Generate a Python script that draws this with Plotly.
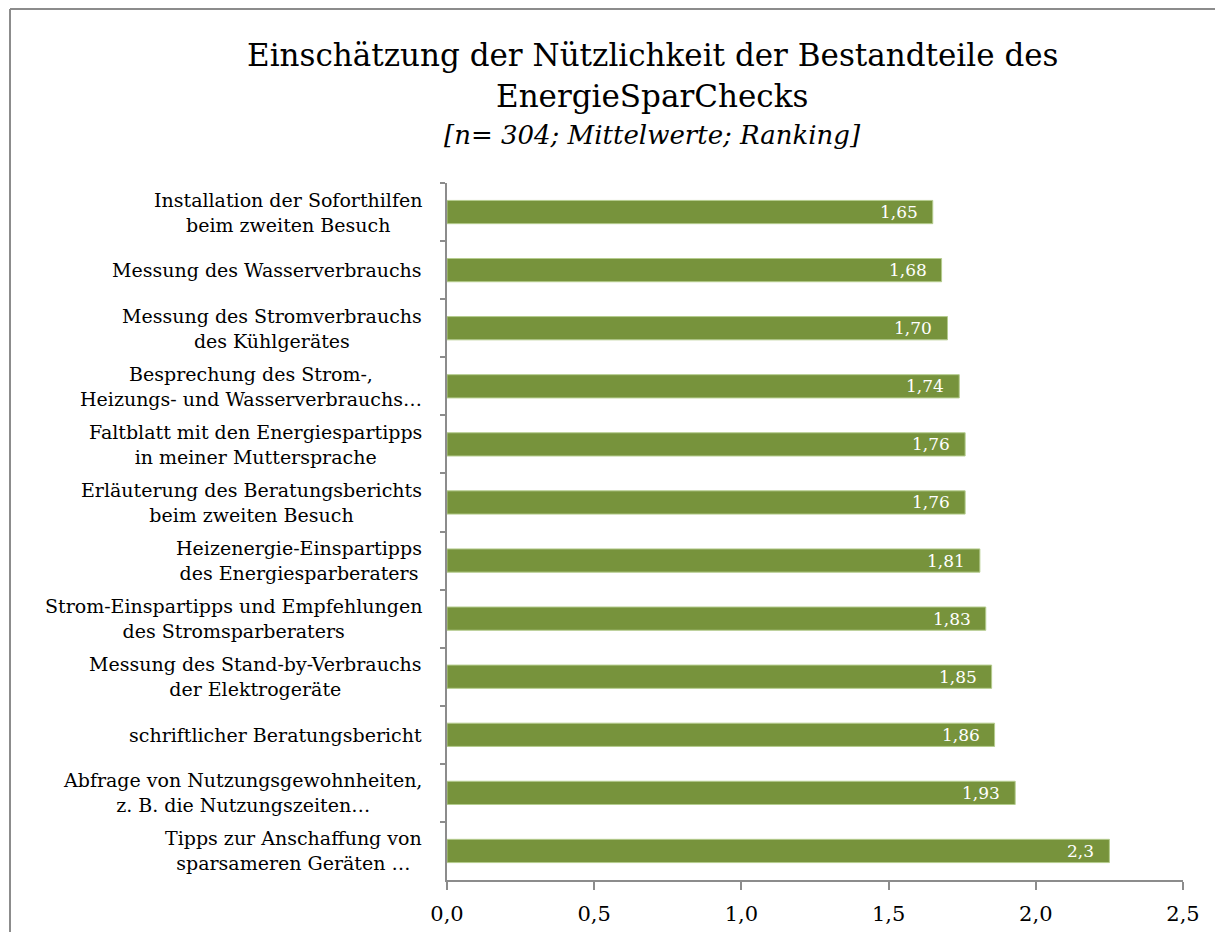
import plotly.graph_objects as go

categories = [
    "Installation der Soforthilfen<br>beim zweiten Besuch",
    "Messung des Wasserverbrauchs",
    "Messung des Stromverbrauchs<br>des Kühlgerätes",
    "Besprechung des Strom-,<br>Heizungs- und Wasserverbrauchs…",
    "Faltblatt mit den Energiespartipps<br>in meiner Muttersprache",
    "Erläuterung des Beratungsberichts<br>beim zweiten Besuch",
    "Heizenergie-Einspartipps<br>des Energiesparberaters",
    "Strom-Einspartipps und Empfehlungen<br>des Stromsparberaters",
    "Messung des Stand-by-Verbrauchs<br>der Elektrogeräte",
    "schriftlicher Beratungsbericht",
    "Abfrage von Nutzungsgewohnheiten,<br>z. B. die Nutzungszeiten…",
    "Tipps zur Anschaffung von<br>sparsameren Geräten …",
]
values = [1.65, 1.68, 1.70, 1.74, 1.76, 1.76, 1.81, 1.83, 1.85, 1.86, 1.93, 2.25]
value_labels = ["1,65", "1,68", "1,70", "1,74", "1,76", "1,76", "1,81", "1,83",
                "1,85", "1,86", "1,93", "2,3"]
x_ticks = [0.0, 0.5, 1.0, 1.5, 2.0, 2.5]

ids = [f"c{i}" for i in range(len(categories))]

OFF = 8  # page body margin
W, H = 1223 - 2 * OFF, 940 - 2 * OFF
# target page-pixel positions of the plot area
PL, PR, PT, PB = 447, 1183, 183, 880
L = PL - OFF
T = PT - OFF
R = W - (PR - OFF)
B = H - (PB - OFF)
PW, PH = PR - PL, PB - PT

def px_x(p):
    return (p - PL) / PW

def px_y(p):
    return (PB - p) / PH

FONT = "DejaVu Serif"

fig = go.Figure()
fig.add_trace(go.Bar(
    y=ids, x=values, orientation="h",
    marker=dict(color="#77933C", line=dict(color="#b5cc8e", width=1)),
    width=0.4, hoverinfo="skip",
))

annotations = []
for cid, v, lab in zip(ids, values, value_labels):
    annotations.append(dict(x=v, y=cid, xref="x", yref="y", text=lab,
                            showarrow=False, xanchor="right", xshift=-13,
                            font=dict(family=FONT, size=17, color="white")))
for cid, cat in zip(ids, categories):
    annotations.append(dict(x=px_x(424), y=cid, xref="paper", yref="y", text=cat,
                            showarrow=False, xanchor="right", align="center",
                            font=dict(family=FONT, size=19, color="black")))

annotations += [
    dict(x=px_x(652), y=px_y(55), xref="paper", yref="paper", showarrow=False,
         text="Einschätzung der Nützlichkeit der Bestandteile des",
         font=dict(family=FONT, size=31, color="black"),
         xanchor="center", yanchor="middle"),
    dict(x=px_x(652), y=px_y(96), xref="paper", yref="paper", showarrow=False,
         text="EnergieSparChecks",
         font=dict(family=FONT, size=31, color="black"),
         xanchor="center", yanchor="middle"),
    dict(x=px_x(652), y=px_y(135), xref="paper", yref="paper", showarrow=False,
         text="<i>[n= 304; Mittelwerte; Ranking]</i>",
         font=dict(family=FONT, size=26, color="black"),
         xanchor="center", yanchor="middle"),
]

frame = dict(color="#8c8c8c", width=2)
right_edge = px_x(W + OFF)
bottom_edge = px_y(H + OFF)
fig.update_layout(
    width=W, height=H,
    margin=dict(l=L, r=R, t=T, b=B, pad=0, autoexpand=False),
    paper_bgcolor="white", plot_bgcolor="white",
    showlegend=False,
    separators=", ",
    annotations=annotations,
    shapes=[
        dict(type="line", xref="paper", yref="paper",
             x0=px_x(10), x1=right_edge, y0=px_y(9), y1=px_y(9),
             line=frame, layer="below"),
        dict(type="line", xref="paper", yref="paper",
             x0=px_x(10), x1=px_x(10), y0=px_y(9), y1=bottom_edge,
             line=frame, layer="below"),
    ],
    xaxis=dict(range=[0, 2.5], tickvals=x_ticks, tickformat=".1f",
               automargin=False,
               showgrid=False, zeroline=False,
               showline=True, linecolor="#8c8c8c", linewidth=1.5,
               ticks="outside", ticklen=8, tickcolor="#8c8c8c", tickwidth=1.5,
               ticklabelstandoff=6,
               tickfont=dict(family=FONT, size=21, color="black")),
    yaxis=dict(categoryorder="array", categoryarray=ids, autorange="reversed",
               automargin=False,
               showticklabels=False, showgrid=False, zeroline=False,
               showline=True, linecolor="#8c8c8c", linewidth=1.5,
               ticks="outside", ticklen=5, tickcolor="#8c8c8c", tickwidth=1.5,
               tickson="boundaries"),
)

fig.write_html("out.html")
